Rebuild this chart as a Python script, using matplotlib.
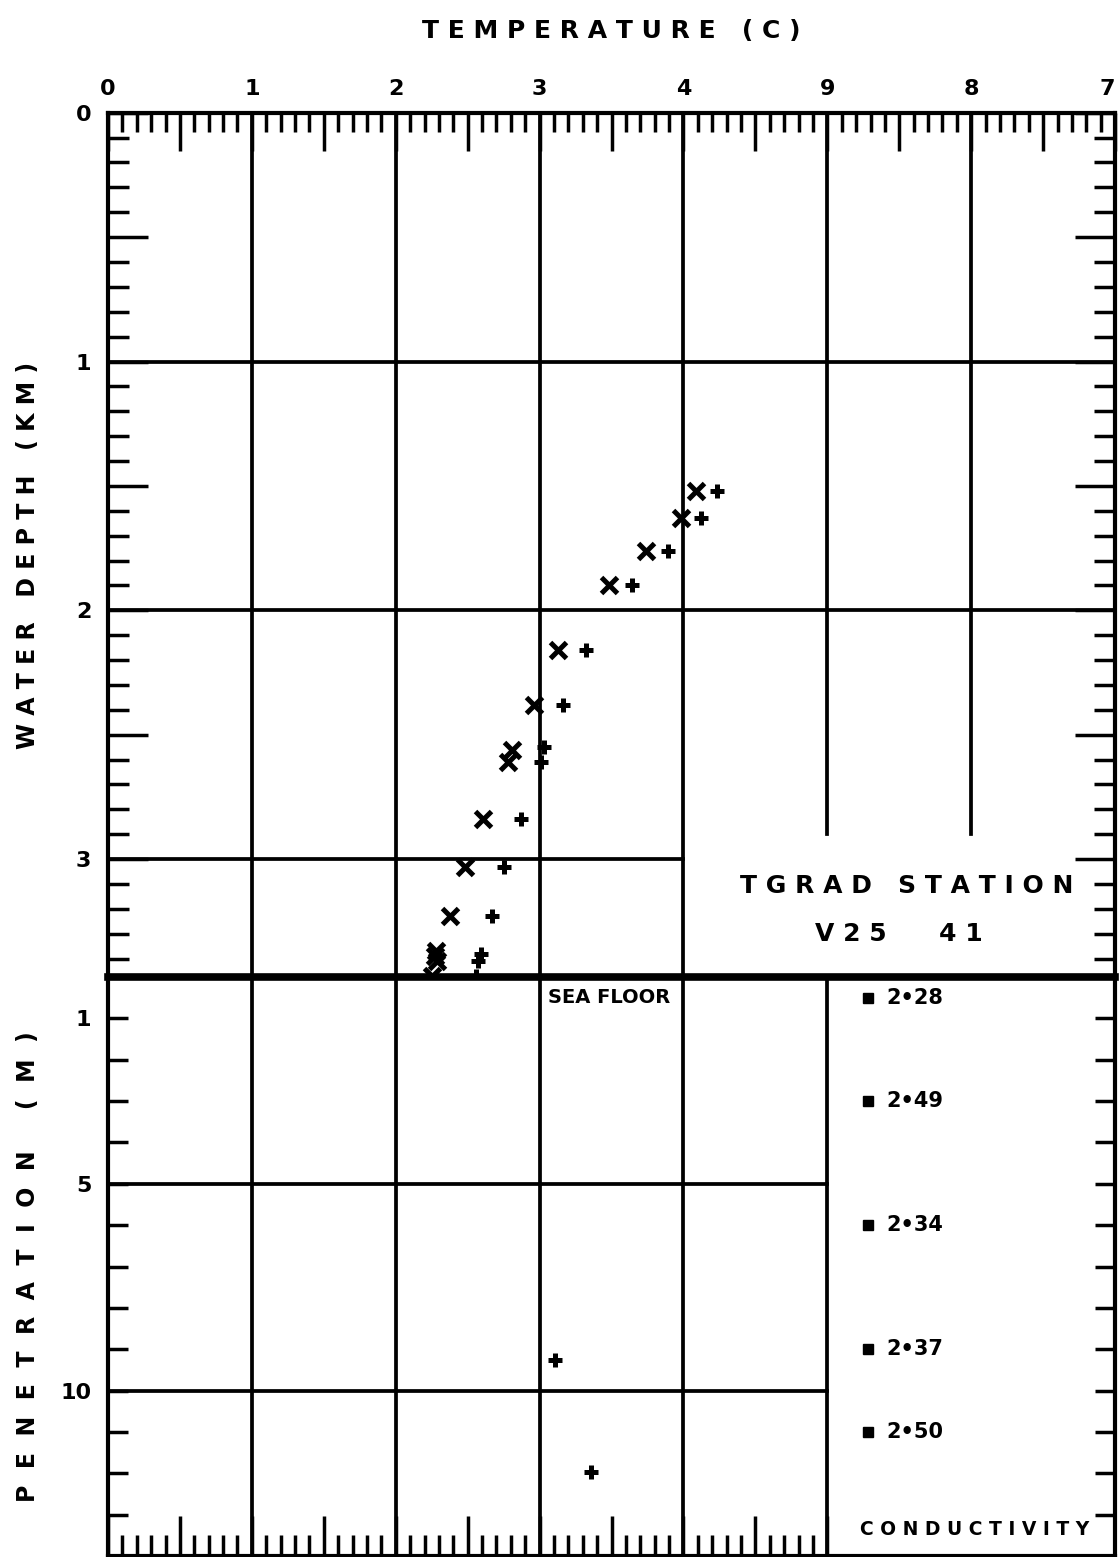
import numpy as np
import matplotlib
matplotlib.use('Agg')
import matplotlib.pyplot as plt
from matplotlib.ticker import MultipleLocator, FixedLocator, FuncFormatter

# 水柱温度 (C) / 水深 (km)，两个探头：'x' 和 '+'
temp_x = [4.09, 3.98, 3.74, 3.48, 3.13, 2.96, 2.81, 2.78, 2.61, 2.48, 2.38, 2.28, 2.27, 2.29, 2.25]
depth_x = [1.52, 1.63, 1.76, 1.90, 2.16, 2.38, 2.56, 2.61, 2.84, 3.03, 3.23, 3.37, 3.39, 3.41, 3.47]
temp_p = [4.23, 4.12, 3.89, 3.64, 3.32, 3.16, 3.03, 3.01, 2.87, 2.75, 2.67, 2.59, 2.57, 2.56]
depth_p = [1.52, 1.63, 1.76, 1.90, 2.16, 2.38, 2.55, 2.61, 2.84, 3.03, 3.23, 3.38, 3.41, 3.47]

# 沉积物中的温度 (penetration, m)
temp_sed = [3.11, 3.36]
pen_sed = [9.25, 11.96]

# 热导率
cond_pen = [0.5, 3.0, 6.0, 9.0, 11.0]
cond_val = [2.28, 2.49, 2.34, 2.37, 2.50]

# 刻度标签
x_ticklabels = {0: '0', 1: '1', 2: '2', 3: '3', 4: '4', 5: '9', 6: '8', 7: '7'}
depth_labels = [0, 1, 2, 3]
pen_labels = [1, 5, 10]

sea_floor = 3.474   # km
pen_max = 14        # m
cond_col = 5.28     # x position of the conductivity column

plt.rcParams['font.family'] = ['DejaVu Sans']
plt.rcParams['font.weight'] = 'bold'

fig = plt.figure(figsize=(11.19, 15.57), dpi=100)
ax1 = fig.add_axes([0.0965, 0.3725, 0.9000, 0.5551])
ax2 = fig.add_axes([0.0965, 0.0006, 0.9000, 0.3719])

GRID_LW = 2.7
TICK_W = 2.5
for ax in (ax1, ax2):
    for s in ax.spines.values():
        s.set_linewidth(3)

# ---- 上半部分：水深 ----
ax1.set_xlim(0, 7)
ax1.set_ylim(sea_floor, 0)
for v in [1, 2, 3, 4]:
    ax1.axvline(v, color='k', lw=GRID_LW)
for v in [5, 6]:
    ax1.plot([v, v], [0, 2.90], color='k', lw=GRID_LW)
for h in [1, 2]:
    ax1.axhline(h, color='k', lw=GRID_LW)
ax1.plot([0, 4], [3, 3], color='k', lw=GRID_LW)

ax1.plot(temp_x, depth_x, 'x', ms=11, mew=3.6, color='k', clip_on=False, zorder=4)
ax1.plot(temp_p, depth_p, '+', ms=10, mew=3.6, color='k', clip_on=False, zorder=4)

ax1.xaxis.tick_top()
ax1.xaxis.set_label_position('top')
ax1.xaxis.set_major_locator(MultipleLocator(0.5))
ax1.xaxis.set_minor_locator(MultipleLocator(0.1))
ax1.xaxis.set_major_formatter(FuncFormatter(
    lambda v, p: x_ticklabels.get(int(round(v)), '') if abs(v - round(v)) < 1e-6 else ''))
ax1.yaxis.set_major_locator(MultipleLocator(0.5))
ax1.yaxis.set_minor_locator(MultipleLocator(0.1))
ax1.yaxis.set_major_formatter(FuncFormatter(
    lambda v, p: str(int(round(v))) if abs(v - round(v)) < 1e-6 and round(v) in depth_labels else ''))
ax1.tick_params(axis='x', which='major', direction='in', length=27, width=TICK_W,
                top=True, bottom=False, labeltop=True, labelbottom=False, pad=10, labelsize=16)
ax1.tick_params(axis='x', which='minor', direction='in', length=13.5, width=TICK_W,
                top=True, bottom=False)
ax1.tick_params(axis='y', which='major', direction='in', length=29, width=TICK_W,
                left=True, right=True, labelleft=True, pad=12, labelsize=16)
ax1.tick_params(axis='y', which='minor', direction='in', length=15, width=TICK_W,
                left=True, right=True)

ax1.set_xlabel('T E M P E R A T U R E   ( C )', fontsize=18, fontweight='bold')
ax1.xaxis.set_label_coords(0.5, 1 + 82 / 864)
ax1.xaxis.label.set_va('center')
ax1.set_ylabel('W A T E R   D E P T H   ( K M )', fontsize=17, fontweight='bold')
ax1.yaxis.set_label_coords(-80 / 1009, 0.488)
ax1.yaxis.label.set_va('center')

ax1.text(5.55, 3.11, 'T G R A D   S T A T I O N', ha='center', va='center', fontsize=18)
ax1.text(5.50, 3.30, 'V 2 5      4 1', ha='center', va='center', fontsize=18)

# ---- 下半部分：贯入深度 ----
ax2.set_xlim(0, 7)
ax2.set_ylim(pen_max, 0)
for v in [1, 2, 3, 4, 5]:
    ax2.axvline(v, color='k', lw=GRID_LW)
for h in [5, 10]:
    ax2.plot([0, 5], [h, h], color='k', lw=GRID_LW)
# 海底线
ax2.axhline(0, color='k', lw=5.5, clip_on=False, zorder=5)

ax2.plot(temp_sed, pen_sed, '+', ms=10, mew=3.6, color='k', zorder=4)
ax2.plot(np.full(len(cond_pen), cond_col), cond_pen, 's', ms=7, color='k')
for p, c in zip(cond_pen, cond_val):
    ax2.text(cond_col + 0.13, p, f'{c:.2f}'.replace('.', '•'), va='center', ha='left', fontsize=15)

ax2.text(3.06, 0.5, 'SEA FLOOR', ha='left', va='center', fontsize=14)
ax2.text(5.23, 13.35, 'C O N D U C T I V I T Y', ha='left', va='center', fontsize=13.5)

ax2.xaxis.set_major_locator(FixedLocator(np.arange(0, 5.01, 0.5)))
ax2.xaxis.set_minor_locator(FixedLocator(np.arange(0, 5.01, 0.1)))
ax2.yaxis.set_major_locator(MultipleLocator(1))
ax2.yaxis.set_major_formatter(FuncFormatter(
    lambda v, p: str(int(round(v))) if round(v) in pen_labels else ''))
ax2.tick_params(axis='x', which='major', direction='in', length=29, width=TICK_W,
                top=False, bottom=True, labelbottom=False)
ax2.tick_params(axis='x', which='minor', direction='in', length=15, width=TICK_W,
                top=False, bottom=True)
ax2.tick_params(axis='y', which='major', direction='in', length=14.5, width=TICK_W,
                left=True, right=True, labelleft=True, pad=12, labelsize=16)

ax2.set_ylabel('P  E  N  E  T  R  A  T  I  O  N     (  M  )', fontsize=17, fontweight='bold')
ax2.yaxis.set_label_coords(-80 / 1009, 0.5)
ax2.yaxis.label.set_va('center')

# 最右边的 "7" 不要被裁掉
fig.canvas.draw()
for lab in ax1.get_xticklabels():
    if lab.get_text() == '7':
        lab.set_horizontalalignment('right')

fig.savefig('out.png', dpi=100)
